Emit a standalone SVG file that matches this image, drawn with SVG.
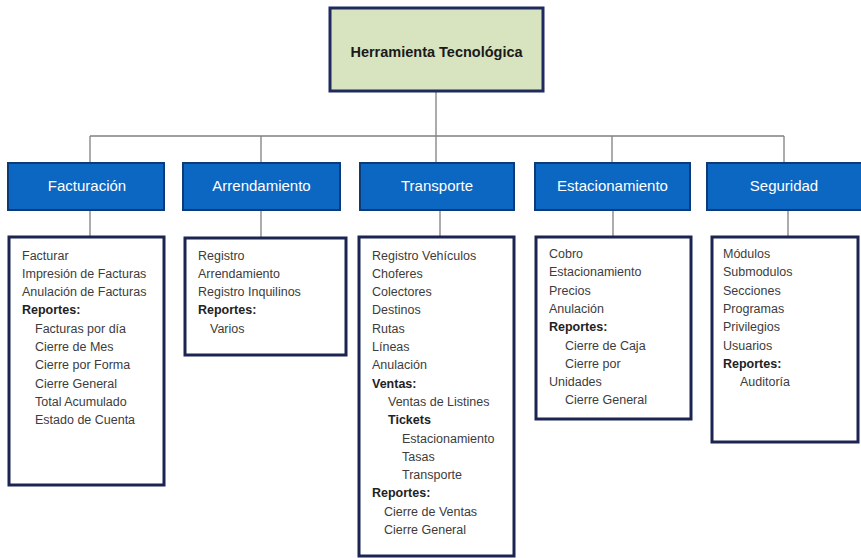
<svg xmlns="http://www.w3.org/2000/svg" width="861" height="558" viewBox="0 0 861 558">
<style>
.conn{stroke:#808080;stroke-width:1.3;fill:none}
.root{fill:#d8e3bf;stroke:#1f2a5e;stroke-width:3}
.hdr{fill:#0b67c2;stroke:#0d3b78;stroke-width:2}
.det{fill:#ffffff;stroke:#1c2452;stroke-width:3}
.rt{font-family:"Liberation Sans",Arial,sans-serif;font-size:14.5px;font-weight:bold;fill:#1a1a1a;text-anchor:middle}
.ht{font-family:"Liberation Sans",Arial,sans-serif;font-size:15px;fill:#ffffff;text-anchor:middle}
.t{font-family:"Liberation Sans",Arial,sans-serif;font-size:12.5px;fill:#3c3c3c}
.b{font-weight:bold;fill:#222222}
</style>
<rect width="861" height="558" fill="#ffffff"/>
<g id="connectors">
<path class="conn" d="M436 92V136M90 136H784M90 136V163M261 136V163M436 136V163M612 136V163M784 136V163"/>
<path class="conn" d="M90 210V237M261 210V238M440 210V237M613 210V237M788 210V237"/>
</g>
<g id="root">
<rect class="root" x="330" y="8" width="213" height="83"/>
<text class="rt" x="436.5" y="57">Herramienta Tecnológica</text>
</g>
<g id="facturacion">
<rect class="hdr" x="8" y="163" width="156" height="47"/>
<text class="ht" x="87" y="191">Facturación</text>
</g>
<g id="arrendamiento">
<rect class="hdr" x="183" y="163" width="157" height="47"/>
<text class="ht" x="261.5" y="191">Arrendamiento</text>
</g>
<g id="transporte">
<rect class="hdr" x="360" y="163" width="154" height="47"/>
<text class="ht" x="437" y="191">Transporte</text>
</g>
<g id="estacionamiento">
<rect class="hdr" x="535" y="163" width="155" height="47"/>
<text class="ht" x="612.5" y="191">Estacionamiento</text>
</g>
<g id="seguridad">
<rect class="hdr" x="707" y="163" width="160" height="47"/>
<text class="ht" x="784" y="191">Seguridad</text>
</g>
<g id="facturacion-detalle">
<rect class="det" x="9" y="237" width="155" height="248"/>
<text class="t" x="22" y="259.5">Facturar</text>
<text class="t" x="22" y="277.8">Impresión de Facturas</text>
<text class="t" x="22" y="296.1">Anulación de Facturas</text>
<text class="t b" x="22" y="314.4">Reportes:</text>
<text class="t" x="35" y="332.7">Facturas por día</text>
<text class="t" x="35" y="351">Cierre de Mes</text>
<text class="t" x="35" y="369.3">Cierre por Forma</text>
<text class="t" x="35" y="387.6">Cierre General</text>
<text class="t" x="35" y="405.9">Total Acumulado</text>
<text class="t" x="35" y="424.2">Estado de Cuenta</text>
</g>
<g id="arrendamiento-detalle">
<rect class="det" x="185" y="238" width="161" height="117"/>
<text class="t" x="198" y="259.5">Registro</text>
<text class="t" x="198" y="277.8">Arrendamiento</text>
<text class="t" x="198" y="296.1">Registro Inquilinos</text>
<text class="t b" x="198" y="314.4">Reportes:</text>
<text class="t" x="210" y="332.7">Varios</text>
</g>
<g id="transporte-detalle">
<rect class="det" x="359" y="237" width="155" height="319"/>
<text class="t" x="372" y="259.5">Registro Vehículos</text>
<text class="t" x="372" y="277.8">Choferes</text>
<text class="t" x="372" y="296.1">Colectores</text>
<text class="t" x="372" y="314.4">Destinos</text>
<text class="t" x="372" y="332.7">Rutas</text>
<text class="t" x="372" y="351">Líneas</text>
<text class="t" x="372" y="369.3">Anulación</text>
<text class="t b" x="372" y="387.6">Ventas:</text>
<text class="t" x="388" y="405.9">Ventas de Listines</text>
<text class="t b" x="388" y="424.2">Tickets</text>
<text class="t" x="402" y="442.5">Estacionamiento</text>
<text class="t" x="402" y="460.8">Tasas</text>
<text class="t" x="402" y="479.1">Transporte</text>
<text class="t b" x="372" y="497.4">Reportes:</text>
<text class="t" x="384" y="515.7">Cierre de Ventas</text>
<text class="t" x="384" y="534">Cierre General</text>
</g>
<g id="estacionamiento-detalle">
<rect class="det" x="536" y="237" width="155" height="182"/>
<text class="t" x="549" y="258">Cobro</text>
<text class="t" x="549" y="276.3">Estacionamiento</text>
<text class="t" x="549" y="294.6">Precios</text>
<text class="t" x="549" y="312.9">Anulación</text>
<text class="t b" x="549" y="331.2">Reportes:</text>
<text class="t" x="565" y="349.5">Cierre de Caja</text>
<text class="t" x="565" y="367.8">Cierre por</text>
<text class="t" x="549" y="386.1">Unidades</text>
<text class="t" x="565" y="404.4">Cierre General</text>
</g>
<g id="seguridad-detalle">
<rect class="det" x="712" y="237" width="146" height="205"/>
<text class="t" x="723" y="258">Módulos</text>
<text class="t" x="723" y="276.3">Submodulos</text>
<text class="t" x="723" y="294.6">Secciones</text>
<text class="t" x="723" y="312.9">Programas</text>
<text class="t" x="723" y="331.2">Privilegios</text>
<text class="t" x="723" y="349.5">Usuarios</text>
<text class="t b" x="723" y="367.8">Reportes:</text>
<text class="t" x="740" y="386.1">Auditoría</text>
</g>
</svg>
